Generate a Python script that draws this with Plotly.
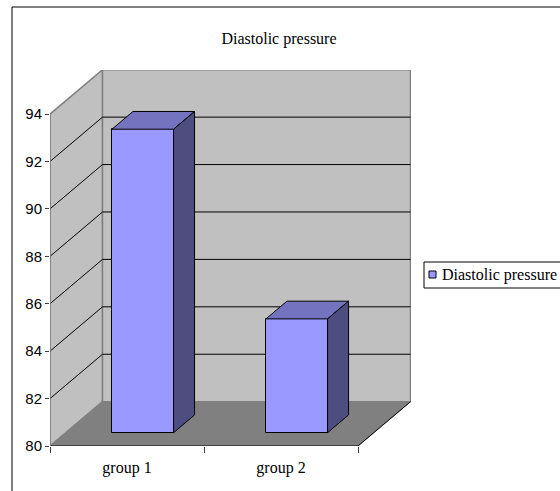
import plotly.graph_objects as go

# ---- data ----
categories = ["group 1", "group 2"]
values = [92.8, 84.8]
series_name = "Diastolic pressure"
y_ticks = [80, 82, 84, 86, 88, 90, 92, 94]

# ---- geometry / style (oblique 3D projection) ----
Y_MIN, Y_MAX = 80, 94
DX = 0.341      # depth offset in category units
DY = 1.87       # depth offset in value units
D0, D1 = 0.3, 0.7   # bar depth span (fraction of floor depth)
BAR_W = 0.4
N = len(categories)

FRONT = "#9999FF"
TOP = "#7373BF"
SIDE = "#4D4D80"
WALL = "#C0C0C0"
FLOOR = "#808080"
EDGE = "#808080"

W, H = 560, 491
PLOT_L, PLOT_R, PLOT_T, PLOT_B = 50, 149, 70, 45
PW = W - PLOT_L - PLOT_R
PH = H - PLOT_T - PLOT_B
px_per_cat = 154.0
x_right = PW / px_per_cat

def pxx(px):  # pixel -> paper x
    return (px - PLOT_L) / PW

def pxy(py):  # pixel -> paper y
    return (H - PLOT_B - py) / PH

shapes = []

def poly(pts, fill, line_color, lw=1, layer="below"):
    path = "M " + " L ".join(f"{x},{y}" for x, y in pts) + " Z"
    shapes.append(dict(type="path", path=path, xref="x", yref="y",
                       fillcolor=fill, line=dict(color=line_color, width=lw),
                       layer=layer))

def seg(x0, y0, x1, y1, color, lw=1, layer="below"):
    shapes.append(dict(type="line", x0=x0, y0=y0, x1=x1, y1=y1, xref="x", yref="y",
                       line=dict(color=color, width=lw), layer=layer))

# left wall
poly([(0, Y_MIN), (0, Y_MAX), (DX, Y_MAX + DY), (DX, Y_MIN + DY)], WALL, EDGE, 1.5)
# back wall
poly([(DX, Y_MIN + DY), (DX, Y_MAX + DY), (N + DX, Y_MAX + DY), (N + DX, Y_MIN + DY)], WALL, EDGE, 1.5)
# floor
poly([(0, Y_MIN), (N, Y_MIN), (N + DX, Y_MIN + DY), (DX, Y_MIN + DY)], FLOOR, FLOOR, 1)
# floor edges
seg(0, Y_MIN, N, Y_MIN, "black", 1.2)
seg(N, Y_MIN, N + DX, Y_MIN + DY, "black", 1)
# gridlines
for v in y_ticks:
    if Y_MIN < v < Y_MAX:
        seg(0, v, DX, v + DY, "black", 1)
        seg(DX, v + DY, N + DX, v + DY, "black", 1)
# front vertical axis edge
seg(0, Y_MIN, 0, Y_MAX, "#808080", 1.5)

fig = go.Figure()

# bar front faces
xs_front = [i + 0.5 + D0 * DX for i in range(N)]
fig.add_trace(go.Bar(
    x=xs_front, y=[v - Y_MIN for v in values], base=[Y_MIN + D0 * DY] * N,
    width=BAR_W, marker=dict(color=FRONT, line=dict(color="black", width=1)),
    name=series_name, showlegend=False, hoverinfo="skip"))

# bar tops and sides
for i, v in enumerate(values):
    xl = i + 0.5 - BAR_W / 2
    xr = i + 0.5 + BAR_W / 2
    top = [(xl + D0 * DX, v + D0 * DY), (xr + D0 * DX, v + D0 * DY),
           (xr + D1 * DX, v + D1 * DY), (xl + D1 * DX, v + D1 * DY), (xl + D0 * DX, v + D0 * DY)]
    side = [(xr + D0 * DX, Y_MIN + D0 * DY), (xr + D0 * DX, v + D0 * DY),
            (xr + D1 * DX, v + D1 * DY), (xr + D1 * DX, Y_MIN + D1 * DY), (xr + D0 * DX, Y_MIN + D0 * DY)]
    for pts, col in ((top, TOP), (side, SIDE)):
        fig.add_trace(go.Scatter(
            x=[p[0] for p in pts], y=[p[1] for p in pts], mode="lines",
            fill="toself", fillcolor=col, line=dict(color="black", width=1),
            showlegend=False, hoverinfo="skip"))

# outer chart border (only top/left visible in frame)
shapes.append(dict(type="rect", xref="paper", yref="paper",
                   x0=pxx(12), x1=pxx(600), y0=pxy(530), y1=pxy(7),
                   line=dict(color="black", width=1), fillcolor="rgba(0,0,0,0)", layer="above"))

# legend box and key
shapes.append(dict(type="rect", xref="paper", yref="paper",
                   x0=pxx(424), x1=pxx(600), y0=pxy(288), y1=pxy(262),
                   line=dict(color="black", width=1), fillcolor="white", layer="above"))
shapes.append(dict(type="rect", xref="paper", yref="paper",
                   x0=pxx(429), x1=pxx(436), y0=pxy(278), y1=pxy(271),
                   line=dict(color="black", width=1), fillcolor=FRONT, layer="above"))
annotations = [dict(text=series_name, xref="paper", yref="paper",
                    x=pxx(440), y=pxy(275), xanchor="left", yanchor="middle",
                    showarrow=False,
                    font=dict(family="Liberation Serif", size=16, color="black"))]

fig.update_layout(
    width=W, height=H,
    margin=dict(l=PLOT_L, r=PLOT_R, t=PLOT_T, b=PLOT_B),
    paper_bgcolor="white", plot_bgcolor="white",
    shapes=shapes, annotations=annotations,
    showlegend=False,
    title=dict(text="Diastolic pressure", x=279 / W, xref="container", xanchor="center",
               y=1 - 38 / H, yref="container", yanchor="middle",
               font=dict(family="Liberation Serif", size=16, color="black")),
    xaxis=dict(range=[0, x_right], showgrid=False, zeroline=False, showline=False,
               tickmode="array", tickvals=[i + 0.5 for i in range(N)], ticktext=categories,
               ticks="", ticklabelstandoff=10,
               tickfont=dict(family="Liberation Serif", size=16, color="black"),
               minor=dict(tickmode="array", tickvals=list(range(N + 1)), ticks="outside",
                          ticklen=6, tickcolor="#404040", tickwidth=1, showgrid=False),
               fixedrange=True),
    yaxis=dict(range=[Y_MIN, Y_MIN + PH / 23.71], showgrid=False,
               zeroline=False, showline=False, tickmode="array", tickvals=y_ticks,
               ticks="outside", ticklen=4, tickcolor="#404040",
               tickfont=dict(family="Liberation Sans", size=15, color="black"),
               fixedrange=True),
    bargap=0,
)

fig.write_html("out.html")
